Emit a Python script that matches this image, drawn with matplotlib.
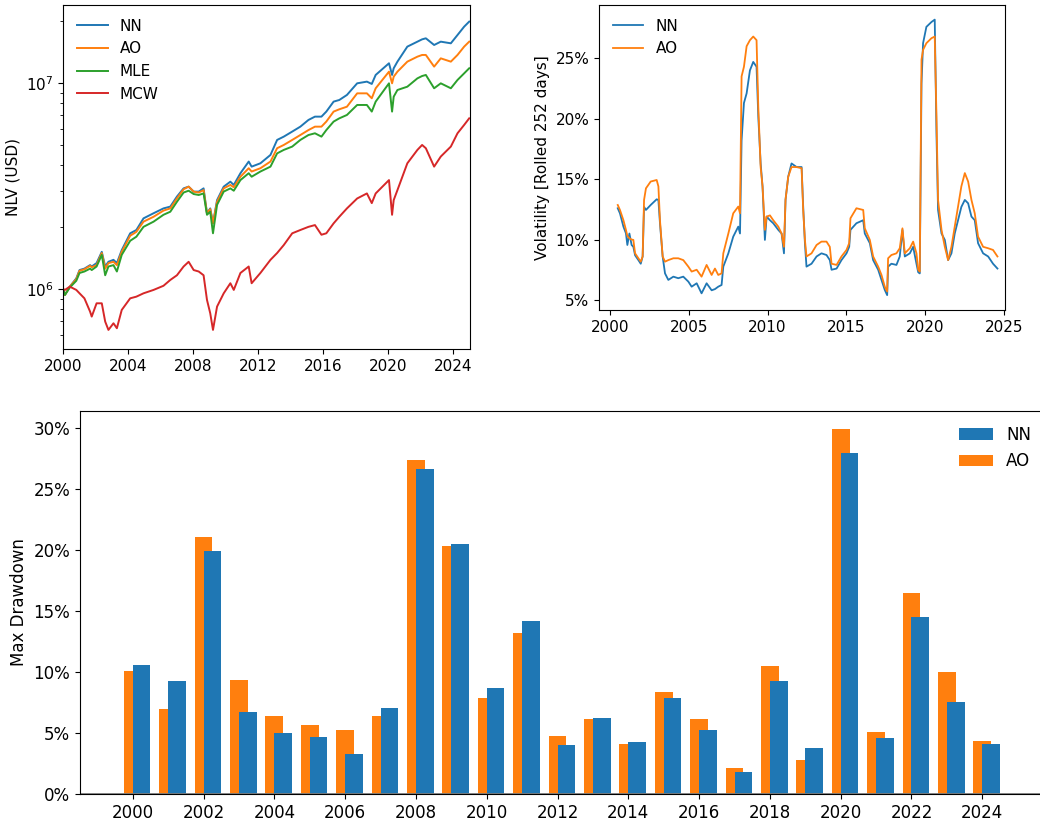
import matplotlib
matplotlib.use("Agg")
import matplotlib.pyplot as plt
import numpy as np
from matplotlib.ticker import FuncFormatter

# ---------------- NLV (USD millions) ----------------
nlv_years = [2000.0, 2000.1, 2000.4, 2000.8, 2001.0, 2001.3, 2001.65, 2001.75, 2002.05, 2002.37,
             2002.58, 2002.78, 2003.09, 2003.3, 2003.6, 2004.12, 2004.5, 2004.94, 2005.56, 2006.17,
             2006.59, 2007.0, 2007.41, 2007.72, 2008.03, 2008.34, 2008.64, 2008.85, 2009.05, 2009.22,
             2009.47, 2009.88, 2010.29, 2010.5, 2010.91, 2011.42, 2011.6, 2012.14, 2012.76, 2013.17,
             2013.58, 2014.1, 2014.6, 2015.1, 2015.5, 2015.9, 2016.2, 2016.65, 2017.0, 2017.47,
             2018.1, 2018.7, 2019.0, 2019.24, 2020.06, 2020.25, 2020.35, 2020.58, 2021.19, 2021.81,
             2022.1, 2022.33, 2022.84, 2023.25, 2023.87, 2024.28, 2024.69, 2025.0]
nlv_nn = [1.00, 0.939, 1.03, 1.13, 1.24, 1.26, 1.31, 1.29, 1.34, 1.52,
          1.29, 1.36, 1.39, 1.34, 1.55, 1.87, 1.94, 2.21, 2.34, 2.47,
          2.52, 2.82, 3.09, 3.15, 2.98, 2.98, 3.09, 2.34, 2.47, 2.09,
          2.71, 3.15, 3.33, 3.21, 3.66, 4.17, 3.94, 4.09, 4.49, 5.31,
          5.51, 5.83, 6.16, 6.64, 6.89, 6.89, 7.29, 8.15, 8.30, 8.78,
          10.0, 10.19, 9.93, 10.98, 12.51, 10.98, 11.83, 12.74, 15.07, 15.93,
          16.35, 16.54, 15.35, 15.93, 15.64, 17.16, 18.84, 19.93]
nlv_ao = [1.00, 0.939, 1.03, 1.12, 1.23, 1.25, 1.30, 1.28, 1.31, 1.50,
          1.26, 1.34, 1.36, 1.31, 1.52, 1.82, 1.90, 2.13, 2.25, 2.41,
          2.47, 2.76, 3.06, 3.15, 2.98, 2.95, 3.03, 2.34, 2.45, 2.09,
          2.66, 3.09, 3.21, 3.13, 3.52, 3.87, 3.73, 3.87, 4.17, 4.84,
          5.02, 5.31, 5.61, 5.93, 6.16, 6.16, 6.52, 7.29, 7.48, 7.70,
          8.94, 8.94, 8.46, 9.46, 11.39, 10.0, 10.77, 11.39, 12.74, 13.47,
          13.73, 13.73, 12.05, 13.22, 12.74, 13.73, 15.07, 15.93]
nlv_mle = [1.00, 0.939, 1.02, 1.10, 1.20, 1.22, 1.26, 1.24, 1.29, 1.47,
           1.17, 1.29, 1.31, 1.22, 1.47, 1.72, 1.80, 2.01, 2.13, 2.30,
           2.38, 2.66, 2.95, 3.01, 2.90, 2.87, 2.92, 2.30, 2.38, 1.87,
           2.57, 2.98, 3.09, 3.01, 3.39, 3.66, 3.52, 3.73, 3.94, 4.57,
           4.75, 4.93, 5.31, 5.61, 5.72, 5.51, 5.93, 6.52, 6.76, 7.02,
           7.85, 7.85, 7.29, 8.15, 10.0, 7.29, 8.61, 9.28, 9.63, 10.57,
           10.85, 10.98, 9.46, 10.0, 9.46, 10.38, 11.18, 11.83]
nlv_mcw = [1.00, 0.993, 1.03, 0.993, 0.956, 0.904, 0.779, 0.737, 0.855, 0.855,
           0.697, 0.635, 0.684, 0.647, 0.794, 0.904, 0.921, 0.956, 0.993, 1.04,
           1.11, 1.17, 1.29, 1.36, 1.24, 1.22, 1.17, 0.888, 0.765, 0.635,
           0.824, 0.956, 1.07, 0.993, 1.20, 1.29, 1.07, 1.20, 1.39, 1.50,
           1.64, 1.87, 1.94, 2.01, 2.05, 1.84, 1.87, 2.09, 2.25, 2.47,
           2.76, 2.92, 2.62, 2.92, 3.39, 2.30, 2.71, 3.03, 4.09, 4.75,
           5.02, 4.84, 3.94, 4.41, 4.93, 5.72, 6.28, 6.76]

# ---------------- Rolling volatility (%) ----------------
vol_years = [2000.49, 2000.63, 2000.85, 2001.01, 2001.10, 2001.23, 2001.37, 2001.48, 2001.59, 2001.80,
             2001.95, 2002.07, 2002.16, 2002.28, 2002.58, 2002.96, 2003.07, 2003.17, 2003.34, 2003.49,
             2003.70, 2004.02, 2004.33, 2004.65, 2004.97, 2005.18, 2005.50, 2005.81, 2006.13, 2006.45,
             2006.66, 2006.87, 2007.08, 2007.19, 2007.51, 2007.82, 2008.14, 2008.25, 2008.35, 2008.50,
             2008.67, 2008.88, 2009.09, 2009.30, 2009.41, 2009.56, 2009.68, 2009.83, 2009.94, 2010.15,
             2010.36, 2010.68, 2010.89, 2011.04, 2011.14, 2011.31, 2011.52, 2011.84, 2012.16, 2012.26,
             2012.37, 2012.47, 2012.79, 2013.11, 2013.42, 2013.74, 2013.95, 2014.06, 2014.38, 2014.69,
             2015.01, 2015.18, 2015.26, 2015.64, 2016.07, 2016.17, 2016.49, 2016.70, 2017.02, 2017.23,
             2017.44, 2017.59, 2017.65, 2017.86, 2018.18, 2018.39, 2018.56, 2018.71, 2019.03, 2019.24,
             2019.45, 2019.56, 2019.66, 2019.77, 2019.87, 2020.08, 2020.40, 2020.61, 2020.72, 2020.82,
             2021.04, 2021.25, 2021.46, 2021.67, 2021.88, 2022.09, 2022.30, 2022.52, 2022.73, 2022.94,
             2023.15, 2023.36, 2023.68, 2024.00, 2024.31, 2024.59]
vol_nn = [12.59, 12.17, 11.07, 10.52, 9.55, 10.5, 9.55, 9.4, 8.7, 8.3,
          8.0, 8.6, 12.7, 12.45, 12.86, 13.33, 13.28, 11.35, 8.6, 7.2,
          6.66, 6.93, 6.8, 6.93, 6.52, 6.1, 6.38, 5.55, 6.38, 5.8,
          5.9, 6.1, 6.24, 7.76, 8.86, 10.24, 11.07, 10.5, 18.2, 21.3,
          22.1, 24.0, 24.7, 24.3, 20.2, 16.3, 14.4, 9.97, 11.9, 11.6,
          11.35, 10.8, 10.5, 8.86, 13.3, 15.2, 16.3, 16.0, 16.0, 12.73,
          9.7, 7.76, 8.0, 8.6, 8.86, 8.72, 8.3, 7.5, 7.6, 8.3,
          8.86, 9.4, 10.8, 11.35, 11.6, 10.5, 9.7, 8.3, 7.5, 6.66,
          5.83, 5.4, 7.76, 8.0, 7.9, 8.6, 10.8, 8.6, 8.86, 9.4,
          8.0, 7.3, 7.2, 22.9, 26.25, 27.6, 28.0, 28.2, 18.8, 12.45,
          10.5, 9.97, 8.3, 8.86, 10.5, 11.6, 12.7, 13.28, 13.0, 11.9,
          11.6, 9.7, 8.86, 8.6, 8.0, 7.6]
vol_ao = [12.86, 12.45, 11.6, 10.8, 10.3, 10.1, 10.0, 9.97, 8.86, 8.45,
          8.17, 8.6, 13.28, 14.24, 14.8, 14.93, 14.4, 11.6, 8.6, 8.17,
          8.3, 8.45, 8.45, 8.3, 7.76, 7.35, 7.5, 6.93, 7.9, 7.07,
          7.6, 7.07, 7.2, 8.86, 10.5, 12.17, 12.73, 12.17, 23.5, 24.3,
          26.0, 26.5, 26.8, 26.5, 21.0, 16.0, 14.4, 10.8, 11.9, 12.0,
          11.6, 11.07, 10.5, 9.4, 13.3, 15.2, 16.0, 16.0, 15.9, 12.45,
          9.97, 8.6, 8.86, 9.55, 9.83, 9.83, 9.4, 8.0, 7.9, 8.6,
          9.14, 9.7, 11.76, 12.59, 12.45, 10.93, 9.97, 8.6, 7.76, 7.07,
          6.1, 5.7, 8.45, 8.72, 8.86, 9.28, 10.93, 8.86, 9.28, 9.83,
          8.86, 7.5, 7.35, 24.9, 25.7, 26.25, 26.66, 26.8, 20.2, 13.28,
          10.8, 9.4, 8.3, 9.4, 11.07, 12.73, 14.4, 15.5, 14.8, 13.28,
          12.17, 10.24, 9.4, 9.28, 9.14, 8.6]

# ---------------- Yearly max drawdown (%) ----------------
dd_years = [2000, 2001, 2002, 2003, 2004, 2005, 2006, 2007, 2008, 2009, 2010, 2011, 2012,
            2013, 2014, 2015, 2016, 2017, 2018, 2019, 2020, 2021, 2022, 2023, 2024]
dd_nn = [10.57, 9.25, 19.93, 6.71, 4.98, 4.65, 3.26, 7.04, 26.66, 20.50, 8.68, 14.18, 4.00,
         6.21, 4.24, 7.86, 5.23, 1.78, 9.25, 3.75, 27.98, 4.57, 14.51, 7.53, 4.08]
dd_ao = [10.07, 6.95, 21.08, 9.33, 6.38, 5.64, 5.23, 6.38, 27.40, 20.34, 7.86, 13.19, 4.74,
         6.13, 4.08, 8.35, 6.13, 2.11, 10.48, 2.76, 29.95, 5.06, 16.48, 9.99, 4.33]

W, H = 1040, 821
fig = plt.figure(figsize=(W / 100, H / 100), dpi=100)


def px_axes(left, top, right, bottom):
    return fig.add_axes([left / W, 1 - bottom / H, (right - left) / W, (bottom - top) / H])


pct = FuncFormatter(lambda v, p: f"{v:.0f}%")

# ---- Top-left: NLV ----
ax1 = px_axes(63.3, 5, 470, 349)
yrs = np.array(nlv_years)
for vals, lab, col in [(nlv_nn, "NN", "C0"), (nlv_ao, "AO", "C1"),
                       (nlv_mle, "MLE", "C2"), (nlv_mcw, "MCW", "C3")]:
    ax1.plot(yrs, np.array(vals) * 1e6, color=col, lw=1.4, label=lab)
ax1.set_yscale("log")
ax1.set_ylim(5.13e5, 2.40e7)
ax1.set_xlim(2000, 2025.05)
ax1.set_xticks(list(range(2000, 2025, 4)))
ax1.set_xticklabels([str(y) for y in range(2000, 2025, 4)])
ax1.set_ylabel("NLV (USD)", fontsize=11)
ax1.tick_params(labelsize=11)
ax1.legend(loc="upper left", frameon=False, fontsize=11)

# ---- Top-right: volatility ----
ax2 = px_axes(599, 5, 1005, 310)
ax2.plot(vol_years, vol_nn, color="C0", lw=1.3, label="NN")
ax2.plot(vol_years, vol_ao, color="C1", lw=1.3, label="AO")
ax2.set_xlim(1999.3, 2025.07)
ax2.set_ylim(4.17, 29.41)
ax2.set_xticks(list(range(2000, 2026, 5)))
ax2.set_xticklabels([str(y) for y in range(2000, 2026, 5)])
ax2.set_yticks([5, 10, 15, 20, 25])
ax2.yaxis.set_major_formatter(pct)
ax2.set_ylabel("Volatility [Rolled 252 days]", fontsize=11)
ax2.tick_params(labelsize=11)
ax2.legend(loc="upper left", frameon=False, fontsize=11)

# ---- Bottom: max drawdown bars ----
ax3 = px_axes(80, 411, 1046, 794)
yy = np.array(dd_years)
b_ao = ax3.bar(yy, dd_ao, width=0.5, color="C1", label="AO")
b_nn = ax3.bar(yy + 0.25, dd_nn, width=0.5, color="C0", label="NN")
ax3.axhline(0, color="gray", lw=2)
ax3.set_xlim(1998.51, 2025.80)
ax3.set_ylim(0, 31.4)
ax3.set_xticks(list(range(2000, 2025, 2)))
ax3.set_xticklabels([str(y) for y in range(2000, 2025, 2)])
ax3.set_yticks([0, 5, 10, 15, 20, 25, 30])
ax3.yaxis.set_major_formatter(pct)
ax3.set_ylabel("Max Drawdown", fontsize=12)
ax3.tick_params(labelsize=12)
ax3.legend(handles=[b_nn, b_ao], labels=["NN", "AO"], loc="upper right",
           frameon=False, fontsize=12)

fig.savefig("out.png", dpi=100)
